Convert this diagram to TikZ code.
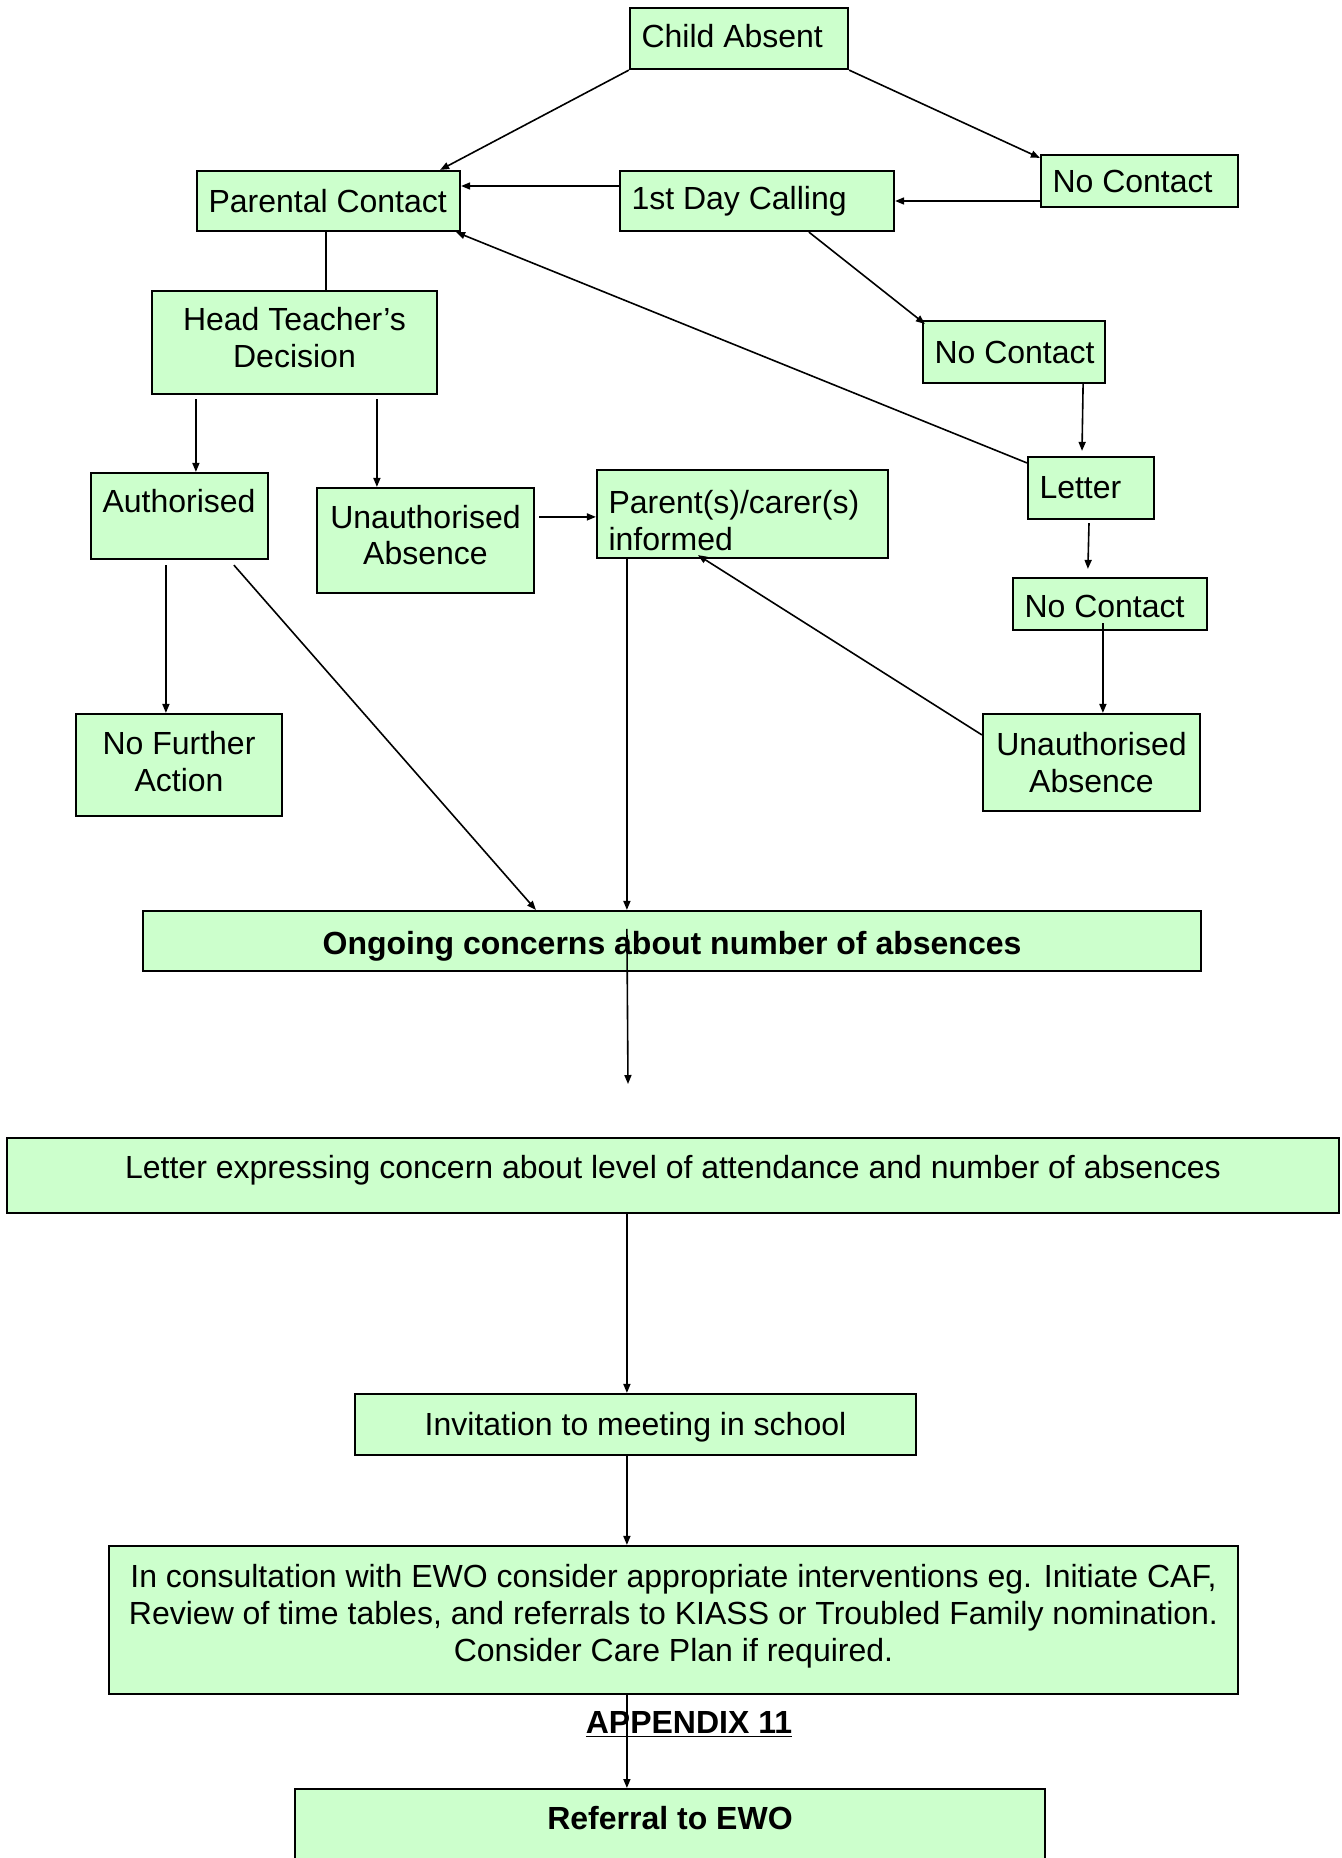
\documentclass[tikz,border=0pt]{standalone}
\usepackage{fontspec}
\setmainfont{Liberation Sans}
\usetikzlibrary{arrows.meta,calc}
\definecolor{boxgreen}{RGB}{204,255,204}
\newcommand\liftup[2]{\raisebox{0pt}[\height][\dimexpr\depth+#1\relax]{#2}}
\newcommand\pushdown[2]{\raisebox{0pt}[\dimexpr\height+#1\relax][\depth]{#2}}
\begin{document}
\begin{tikzpicture}[x=0.5pt,y=-0.5pt,
  box/.style={draw=black, line width=1.1pt, fill=boxgreen, inner sep=0pt,
    font=\fontsize{16}{18.4}\selectfont},
  cbox/.style={box, align=center},
  lbox/.style={box, inner xsep=5.75pt},
  conn/.style={line width=0.8pt, -{Triangle[length=4.5pt,width=3.5pt]}},
  plainline/.style={line width=0.8pt}]
\useasboundingbox (0,0) rectangle (1341,1858);
\clip (0,0) rectangle (1341,1858);

% boxes
\node[lbox, minimum width=109pt, minimum height=30.5pt] (ca) at (739,38.5) {\makebox[97.5pt][l]{\liftup{2.4pt}{Child Absent}}};
\node[lbox, minimum width=98.5pt, minimum height=26pt] (nc1) at (1139.5,181) {\makebox[87pt][l]{No Contact}};
\node[lbox, minimum width=131.5pt, minimum height=30pt] (pc) at (328.5,201) {\makebox[120pt][l]{Parental Contact}};
\node[lbox, minimum width=137pt, minimum height=30pt] (fd) at (757,201) {\makebox[125.5pt][l]{1st Day Calling}};
\node[lbox, minimum width=91pt, minimum height=31pt] (nc2) at (1014,352) {\makebox[79.5pt][l]{No Contact}};
\node[box, minimum width=142.5pt, minimum height=51.5pt] (ht) at (294.5,342.5) {\liftup{0.9pt}{\begin{tabular}{@{}c@{}}Head Teacher’s\\Decision\end{tabular}}};
\node[lbox, minimum width=63pt, minimum height=31pt] (lt) at (1091,488) {\makebox[51.5pt][l]{Letter}};
\node[lbox, minimum width=88.5pt, minimum height=43pt, text depth=15pt] (au) at (179.5,516) {\makebox[77pt][l]{Authorised}};
\node[box, minimum width=108.5pt, minimum height=52.5pt] (ua1) at (425.5,540.5) {\liftup{1.4pt}{\begin{tabular}{@{}c@{}}Unauthorised\\Absence\end{tabular}}};
\node[lbox, minimum width=145.5pt, minimum height=44pt] (pi) at (742.5,514) {\makebox[134pt][l]{\liftup{-10.7pt}{\begin{tabular}{@{}l@{}}Parent(s)/carer(s)\\informed\end{tabular}}}};
\node[lbox, minimum width=97pt, minimum height=26pt] (nc3) at (1110,604) {\makebox[85.5pt][l]{\pushdown{2.4pt}{No Contact}}};
\node[box, minimum width=103pt, minimum height=51pt] (nfa) at (179,765) {\pushdown{0.7pt}{\begin{tabular}{@{}c@{}}No Further\\Action\end{tabular}}};
\node[cbox, minimum width=108.5pt, minimum height=48.5pt] (ua2) at (1091.5,762.5) {Unauthorised\\Absence};
\node[box, minimum width=529pt, minimum height=30pt] (oc) at (672,941) {\pushdown{5pt}{\bfseries Ongoing concerns about number of absences}};
\node[box, minimum width=666pt, minimum height=37.5pt, text depth=9pt] (le) at (673,1175.5) {Letter expressing concern about level of attendance and number of absences};
\node[box, minimum width=280.5pt, minimum height=30.5pt] (inv) at (635.5,1424.5) {\pushdown{2.4pt}{Invitation to meeting in school}};
\node[box, minimum width=564.5pt, minimum height=74pt] (icw) at (673.5,1620) {\liftup{2.6pt}{\begin{tabular}{@{}c@{}}In consultation with EWO consider appropriate interventions eg. Initiate CAF,\\Review of time tables, and referrals to KIASS or Troubled Family nomination.\\Consider Care Plan if required.\end{tabular}}};
\node[box, anchor=north, minimum width=375pt, inner ysep=6pt, text height=14pt, text depth=60pt] (ref) at (670,1788) {\bfseries Referral to EWO};
\node[font=\fontsize{16}{18.4}\selectfont\bfseries, inner sep=0pt] (appx) at (689,1724.5) {\underline{APPENDIX 11}};
\coordinate (ocend) at (628,1084);

% connectors
\draw[conn] (ca.south west) -- ($(pc.north east)+(-21,0)$);
\draw[conn] (ca.south east) -- ($(nc1.north west)+(0,4)$);
\draw[conn] (nc1.west |- fd.east) -- (fd.east);
\draw[conn] ($(fd.west)+(0,-15)$) -- ($(pc.east)+(0,-15)$);
\draw[conn] ($(fd.south west)+(190,0)$) -- ($(nc2.north west)+(3,4)$);
\draw[plainline] ($(pc.south)+(-2.5,0)$) -- ($(pc.south |- ht.north)+(-2.5,0)$);
\draw[conn] ($(lt.north west)+(0,7)$) -- ($(pc.south east)+(-5,0)$);
\draw[conn] ($(nc2.south east)+(-23,0)$) -- ($(lt.north)+(-9,-5)$);
\draw[conn] ($(ht.south west)+(45,4)$) -- ($(au.north west)+(106,0)$);
\draw[conn] ($(ht.south west)+(226,4)$) -- ($(ua1.north west)+(61,0)$);
\draw[conn] ($(ua1.north east)+(4,30)$) -- ($(pi.north west)+(0,48)$);
\draw[conn] ($(lt.south)+(-2,3)$) -- ($(nc3.north west)+(76,-8)$);
\draw[conn] ($(nc3.south west)+(91,-8)$) -- ($(ua2.north west)+(121,0)$);
\draw[conn] ($(ua2.north west)+(0,22)$) -- ($(pi.south west)+(102,-4)$);
\draw[conn] ($(au.south west)+(76,5)$) -- ($(nfa.north west)+(91,0)$);
\draw[conn] ($(au.south west)+(144,5)$) -- ($(oc.north west)+(394,0)$);
\draw[conn] ($(pi.south west)+(31,0)$) -- ($(oc.north west)+(485,0)$);
\draw[conn] ($(oc.north west)+(485,19)$) -- (ocend);
\draw[conn] ($(le.south west)+(621,0)$) -- ($(inv.north west)+(273,0)$);
\draw[conn] ($(inv.south west)+(273,0)$) -- ($(icw.north west)+(519,0)$);
\draw[conn] ($(icw.south west)+(519,0)$) -- ($(ref.north west)+(333,0)$);
\end{tikzpicture}
\end{document}
